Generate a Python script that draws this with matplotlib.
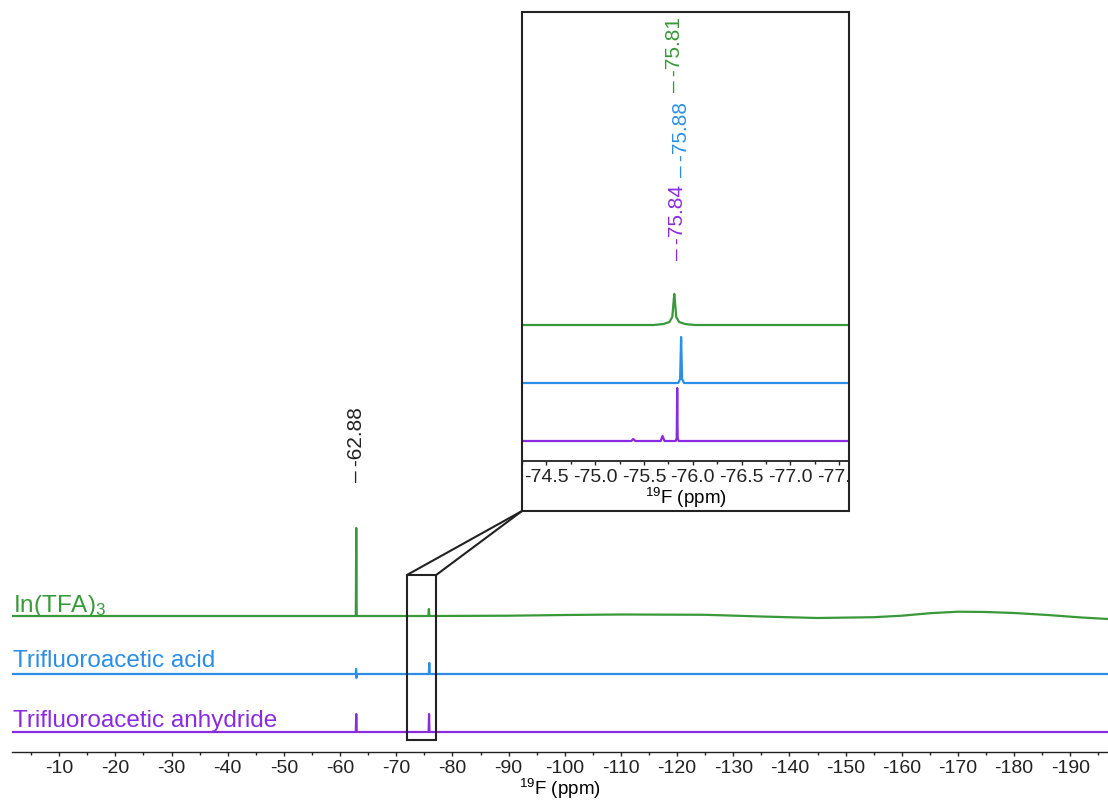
import matplotlib
matplotlib.use("Agg")
import matplotlib.pyplot as plt
from matplotlib.patches import Rectangle, ConnectionPatch
from matplotlib.transforms import Bbox, TransformedBbox
import numpy as np

plt.rcParams['font.family'] = ['Liberation Sans', 'DejaVu Sans']
plt.rcParams['mathtext.fontset'] = 'custom'
plt.rcParams['mathtext.rm'] = 'Liberation Sans'
plt.rcParams['mathtext.it'] = 'Liberation Sans:italic'
plt.rcParams['axes.unicode_minus'] = False

# ---------------- data ----------------
names = ["In(TFA)$_3$", "Trifluoroacetic acid", "Trifluoroacetic anhydride"]
colors = ["#389938", "#2b8fe8", "#8a2be2"]
offsets = [136, 78, 20]          # stacking offsets (arb. units)

# main spectra: ppm and intensity
green_ppm = [-1.6, -62.80, -62.88, -62.96, -75.72, -75.81, -75.90, -90, -100, -110, -125,
             -135, -145, -155, -160, -165, -170, -175, -180, -186, -192, -196.7]
green_int = [0, 0, 88, 0, 0, 7, 0, 0.3, 1.0, 1.5, 1.2,
             -0.5, -2, -1.2, 0.3, 2.8, 4.3, 4.0, 3.0, 1.0, -1.5, -3]
blue_ppm = [-1.6, -62.80, -62.85, -62.90, -62.95, -75.80, -75.88, -75.96, -196.7]
blue_int = [0, 0, 5, -4, 0, 0, 11, 0, 0]
purple_ppm = [-1.6, -62.80, -62.88, -62.96, -75.76, -75.84, -75.92, -196.7]
purple_int = [0, 0, 18, 0, 0, 18, 0, 0]

# inset spectra
ig_ppm = [-74.2, -75.60, -75.70, -75.76, -75.79, -75.80, -75.81, -75.82, -75.83, -75.86, -75.92, -76.02, -77.7]
ig_int = [0, 0, 1, 3, 8, 20, 31, 20, 8, 3, 1, 0, 0]
ib_ppm = [-74.2, -75.85, -75.87, -75.88, -75.89, -75.91, -77.7]
ib_int = [0, 0, 4, 46, 4, 0, 0]
ip_ppm = [-74.2, -75.37, -75.39, -75.41, -75.67, -75.69, -75.71, -75.825, -75.835, -75.84, -75.845, -75.855, -77.7]
ip_int = [0, 0, 2, 0, 0, 5, 0, 0, 3, 53, 3, 0, 0]

main_peak_label = ("-62.88", -62.88)
inset_labels = ["-75.81", "-75.88", "-75.84"]
inset_label_ppm = [-75.81, -75.88, -75.84]
inset_label_y = [369, 284, 201]

main_xlim = (-1.6, -196.7)
main_xticks = list(range(-10, -191, -10))
inset_xlim = (-74.29, -77.6)
inset_xticks = [-74.5, -75.0, -75.5, -76.0, -76.5, -77.0, -77.5]

W, H = 1108, 801
fig = plt.figure(figsize=(W / 100, H / 100), dpi=100)

def fx(px):
    return px / W

def fy(py):
    return 1 - py / H

DASH = "\u2013\u2009"

# ---------------- main axes ----------------
ax = fig.add_axes([fx(12), fy(752), fx(1108 - 12), (752 - 400) / H])
ax.set_xlim(*main_xlim)
ax.set_ylim(0, 352)
for s in ["top", "left", "right"]:
    ax.spines[s].set_visible(False)
ax.spines["bottom"].set_linewidth(1.0)
ax.spines["bottom"].set_color("#222222")
ax.set_yticks([])
ax.set_xticks(main_xticks)
ax.set_xticklabels([str(t) for t in main_xticks])
ax.set_xticks(np.arange(-5, -196, -10), minor=True)
ax.tick_params(axis="x", which="major", direction="out", length=3, width=1, pad=2.5,
               labelsize=14, colors="#222222")
ax.tick_params(axis="x", which="minor", direction="out", length=1.8, width=1, colors="#222222")
ax.set_xlabel("$^{19}$F (ppm)", fontsize=13.5, va="center")
ax.xaxis.set_label_coords((560 - 12) / (1108 - 12), -(789 - 752) / 352)
ax.patch.set_alpha(0)

series = [(green_ppm, green_int), (blue_ppm, blue_int), (purple_ppm, purple_int)]
label_y = [140, 85, 25]
for (p, i), off, c, n, ly in zip(series, offsets, colors, names, label_y):
    ax.plot(p, np.array(i) + off, color=c, lw=1.6, solid_joinstyle="round")
    ax.text(-1.8, ly, n, color=c, fontsize=17.5, ha="left", va="baseline")

ax.text(main_peak_label[1], 270, DASH + main_peak_label[0], rotation=90,
        ha="center", va="bottom", fontsize=15, color="#222222")

# zoom box on main
ax.add_patch(Rectangle((-71.9, 12), -77.1 - (-71.9), 177 - 12, fill=False,
                       ec="#222222", lw=1.5, zorder=5))

# ---------------- inset ----------------
ins = fig.add_axes([fx(522), fy(461), fx(849 - 522), (461 - 12) / H])
ins.set_xlim(*inset_xlim)
ins.set_ylim(0, 449)
ins.set_yticks([])
for s in ins.spines.values():
    s.set_linewidth(1.3)
    s.set_color("#222222")
ins.set_xticks(inset_xticks)
ins.set_xticklabels([f"{t:.1f}" for t in inset_xticks])
ins.set_xticks(np.arange(-74.25, -77.7, -0.5), minor=True)
ins.tick_params(axis="x", which="major", direction="out", length=3, width=1, pad=2.5,
                labelsize=14, colors="#222222")
ins.tick_params(axis="x", which="minor", direction="out", length=1.8, width=1, colors="#222222")
ins.set_xlabel("$^{19}$F (ppm)", fontsize=13.5, va="center")
ins.xaxis.set_label_coords(0.5, -(498 - 461) / 449)

iseries = [(ig_ppm, ig_int), (ib_ppm, ib_int), (ip_ppm, ip_int)]
for (p, i), off, c in zip(iseries, offsets, colors):
    ins.plot(p, np.array(i) + off, color=c, lw=1.6)

for lab, pp, yy, c in zip(inset_labels, inset_label_ppm, inset_label_y, colors):
    ins.text(pp, yy, DASH + lab, rotation=90, ha="center", va="bottom",
             fontsize=15, color=c)

# outer frame around inset (includes tick labels)
outer = Rectangle((fx(522), fy(511)), fx(849 - 522), (511 - 12) / H,
                  transform=fig.transFigure, fill=False, ec="#222222", lw=1.5, zorder=10)
fig.patches.append(outer)
clipbox = TransformedBbox(Bbox([[fx(522), fy(511)], [fx(849), fy(12)]]), fig.transFigure)
for lab in ins.get_xticklabels():
    lab.set_clip_box(clipbox)
    lab.set_clip_on(True)

# connector lines
for xa in (-71.9, -77.1):
    con = ConnectionPatch(xyA=(xa, 177), coordsA=ax.transData,
                          xyB=(fx(522), fy(511)), coordsB=fig.transFigure,
                          color="#222222", lw=1.5)
    fig.add_artist(con)

fig.savefig("out.png", dpi=100)
